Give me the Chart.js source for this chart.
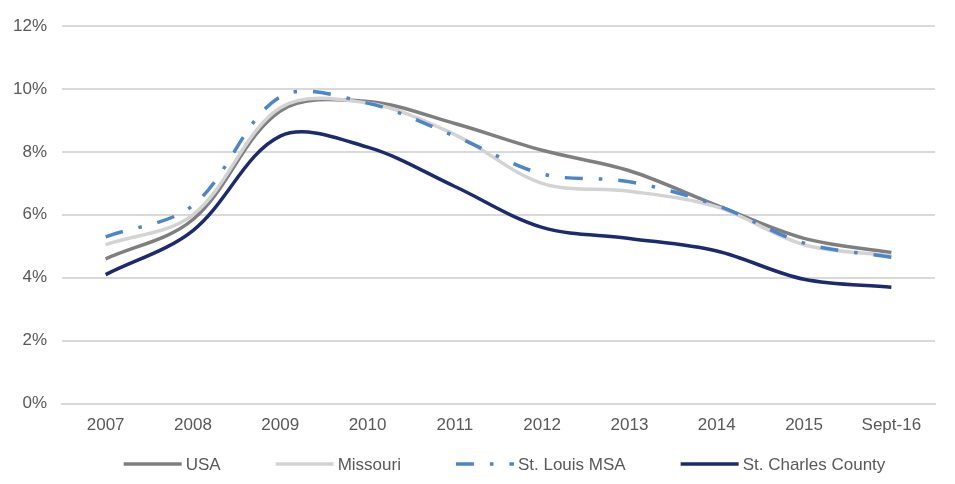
<!DOCTYPE html>
<html>
<head>
<meta charset="utf-8">
<script src="https://cdn.jsdelivr.net/npm/chart.js@4/dist/chart.umd.min.js"></script>
<style>
  html, body { margin: 0; padding: 0; background: #fff; }
  #wrap { width: 955px; height: 484px; position: relative; }
</style>
</head>
<body>
<div id="wrap"><canvas id="rateChart"></canvas></div>
<script>
const years = ["2007", "2008", "2009", "2010", "2011", "2012", "2013", "2014", "2015", "Sept-16"];
const usa = [4.6, 5.85, 9.3, 9.6, 8.9, 8.05, 7.4, 6.3, 5.25, 4.8];
const missouri = [5.05, 6.0, 9.4, 9.55, 8.55, 7.0, 6.75, 6.25, 5.05, 4.7];
const stLouisMsa = [5.3, 6.3, 9.75, 9.55, 8.5, 7.3, 7.05, 6.3, 5.1, 4.65];
const stCharles = [4.1, 5.5, 8.5, 8.15, 6.9, 5.6, 5.25, 4.85, 3.95, 3.7];

const FONT = "'Liberation Sans', Arial, sans-serif";
const TEXT = "#595959";

Chart.defaults.font.family = FONT;
Chart.defaults.color = TEXT;

// legend with long line samples, drawn under the x axis
const lineLegend = {
  id: "lineLegend",
  afterDraw(chart) {
    const { ctx, chartArea } = chart;
    const sample = 58;
    const gap = 4;
    const spacing = 55;
    const y = 464;
    ctx.save();
    ctx.font = `17px ${FONT}`;
    ctx.textBaseline = "middle";
    const items = chart.data.datasets.map((ds) => ({ ds, w: ctx.measureText(ds.label).width }));
    const total = items.reduce((s, it) => s + sample + gap + it.w, 0) + spacing * (items.length - 1);
    let x = (chartArea.left + chartArea.right) / 2 + 6 - total / 2;
    items.forEach(({ ds, w }) => {
      ctx.strokeStyle = ds.borderColor;
      ctx.lineWidth = ds.borderWidth;
      ctx.setLineDash(ds.borderDash || []);
      ctx.beginPath();
      ctx.moveTo(x, y);
      ctx.lineTo(x + sample, y);
      ctx.stroke();
      ctx.setLineDash([]);
      ctx.fillStyle = TEXT;
      ctx.fillText(ds.label, x + sample + gap, y + 1);
      x += sample + gap + w + spacing;
    });
    ctx.restore();
  },
};

const lineStyle = {
  fill: false,
  tension: 0.34,
  borderWidth: 3.5,
  pointRadius: 0,
  borderCapStyle: "butt",
};

new Chart(document.getElementById("rateChart"), {
  type: "line",
  data: {
    labels: years,
    datasets: [
      { ...lineStyle, label: "USA", data: usa, borderColor: "#7f7f7f", order: 4 },
      { ...lineStyle, label: "Missouri", data: missouri, borderColor: "#d3d3d3", order: 3 },
      { ...lineStyle, label: "St. Louis MSA", data: stLouisMsa, borderColor: "#4a86c8", borderDash: [18, 16, 3.5, 16], order: 2 },
      { ...lineStyle, label: "St. Charles County", data: stCharles, borderColor: "#1c2a6e", order: 1 },
    ],
  },
  options: {
    responsive: true,
    maintainAspectRatio: false,
    animation: false,
    layout: { padding: { left: 0, right: 20, top: 26, bottom: 36 } },
    plugins: {
      legend: { display: false },
      tooltip: { enabled: false },
    },
    scales: {
      x: {
        offset: true,
        grid: { display: false, drawTicks: false },
        border: { display: true, color: "#d9d9d9", width: 2 },
        ticks: { padding: 12, color: TEXT, font: { size: 17 } },
      },
      y: {
        min: 0,
        max: 12,
        afterFit: (scale) => { scale.width = 62; },
        grid: { color: "#d9d9d9", lineWidth: 2, drawTicks: false },
        border: { display: false },
        ticks: {
          stepSize: 2,
          padding: 15,
          color: TEXT,
          font: { size: 17 },
          callback: (value) => `${value}%`,
        },
      },
    },
  },
  plugins: [lineLegend],
});
</script>
</body>
</html>
